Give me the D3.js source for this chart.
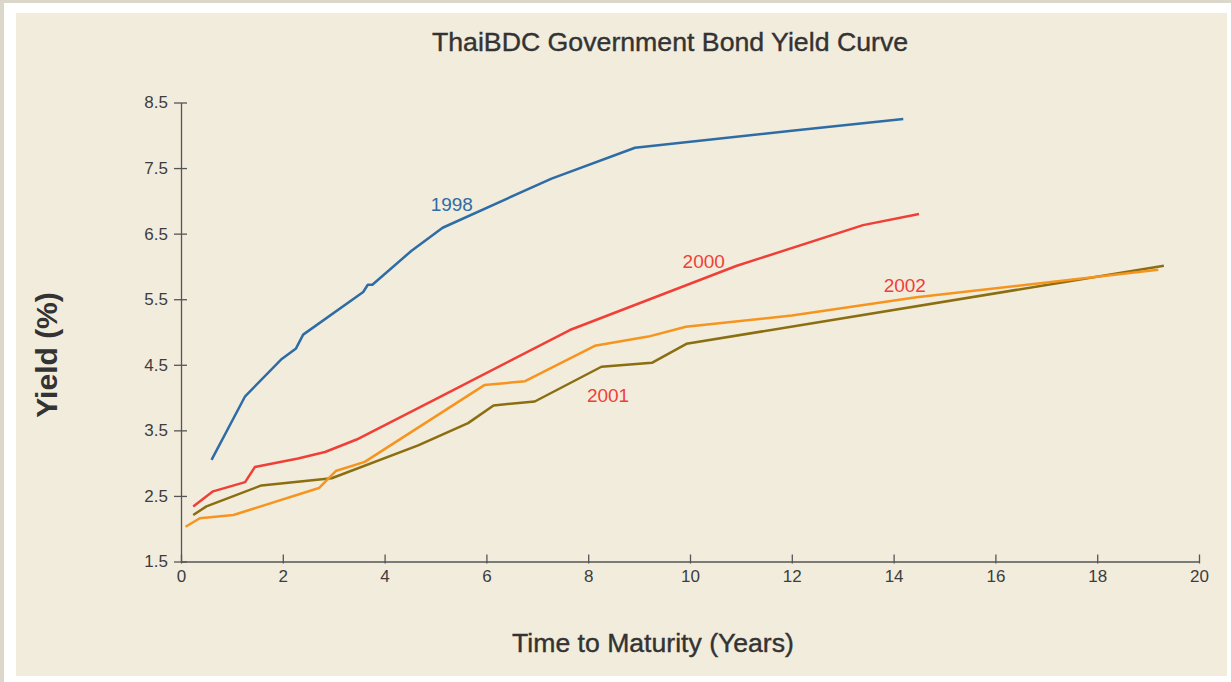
<!DOCTYPE html>
<meta charset="utf-8">
<style>
body { margin: 0; background: #fff; }
text { font-family: "Liberation Sans", Arial, Helvetica, sans-serif; }
.axis path, .axis line { stroke: #555; stroke-width: 1.3px; }
.axis text { fill: #3d3d3d; font-size: 17px; }
.curve { fill: none; stroke-width: 2.5px; stroke-linejoin: round; }
</style>
<svg width="1231" height="682"></svg>
<script src="https://cdn.jsdelivr.net/npm/d3@7"></script>
<script>

var svg = d3.select("svg");

// maturity (years), yield (%)
var years = ["1998", "2000", "2001", "2002"];
var curve1998 = [[0.60,3.05],[1.26,4.02],[1.98,4.59],[2.26,4.75],[2.40,4.96],[3.58,5.61],[3.67,5.72],[3.76,5.72],[4.53,6.24],[5.14,6.59],[7.28,7.34],[8.92,7.81],[12.0,8.07],[14.19,8.25]];
var curve2000 = [[0.24,2.34],[0.63,2.57],[1.26,2.71],[1.45,2.94],[2.30,3.07],[2.83,3.17],[3.45,3.36],[5.09,4.01],[7.64,5.03],[10.92,6.01],[13.40,6.63],[14.50,6.80]];
var curve2001 = [[0.24,2.21],[0.50,2.34],[1.58,2.66],[2.96,2.77],[4.66,3.27],[5.64,3.61],[6.14,3.88],[6.95,3.94],[8.26,4.47],[9.25,4.53],[9.93,4.82],[19.31,6.01]];
var curve2002 = [[0.09,2.03],[0.37,2.16],[1.03,2.21],[2.71,2.62],[3.04,2.88],[3.61,3.02],[5.96,4.19],[6.76,4.25],[8.13,4.79],[9.18,4.93],[9.92,5.08],[12.0,5.25],[14.45,5.53],[19.20,5.95]];
var xTicks = [0, 2, 4, 6, 8, 10, 12, 14, 16, 18, 20];
var yTicks = [1.5, 2.5, 3.5, 4.5, 5.5, 6.5, 7.5, 8.5];
// label anchor points (years, yield)
var labelPos = [[5.32, 6.85], [10.27, 5.98], [8.39, 3.94], [14.22, 5.61]];

var colors = {"1998": "#2e6ca6", "2000": "#ef3f37", "2001": "#8a6e10", "2002": "#f7941e"};
var labelColors = {"1998": "#2e6ca6", "2000": "#ef3f37", "2001": "#ef3f37", "2002": "#ef3f37"};
var curves = {"1998": curve1998, "2000": curve2000, "2001": curve2001, "2002": curve2002};

// page frame
svg.append("rect").attr("width", 1231).attr("height", 682).attr("fill", "#fff");
svg.append("rect").attr("x", 0).attr("y", 0).attr("width", 1231).attr("height", 3).attr("fill", "#dcd7cb");
svg.append("rect").attr("x", 0).attr("y", 0).attr("width", 4).attr("height", 682).attr("fill", "#dcd7cb");
svg.append("rect").attr("x", 16).attr("y", 13).attr("width", 1211).attr("height", 663).attr("fill", "#f2ecdd");

var x = d3.scaleLinear().domain([0, 20]).range([181, 1199]);
var y = d3.scaleLinear().domain([1.5, 8.5]).range([561.5, 102.5]);

var xAxis = svg.append("g")
    .attr("class", "axis")
    .attr("transform", "translate(0,561.5)")
    .call(d3.axisBottom(x).tickValues(xTicks).tickSize(2).tickSizeOuter(0).tickPadding(6));
xAxis.selectAll(".tick line").attr("y1", -7);

var yAxis = svg.append("g")
    .attr("class", "axis")
    .attr("transform", "translate(181,0)")
    .call(d3.axisLeft(y).tickValues(yTicks).tickFormat(d3.format(".1f")).tickSize(7).tickSizeOuter(0).tickPadding(6));
yAxis.selectAll(".tick line").attr("x1", 6);

var line = d3.line()
    .x(function(d) { return x(d[0]); })
    .y(function(d) { return y(d[1]); });

svg.selectAll(".curve")
  .data(years)
  .enter().append("path")
    .attr("class", "curve")
    .attr("stroke", function(d) { return colors[d]; })
    .attr("d", function(d) { return line(curves[d]); });

svg.selectAll(".lbl")
  .data(years)
  .enter().append("text")
    .attr("class", "lbl")
    .attr("x", function(d, i) { return x(labelPos[i][0]); })
    .attr("y", function(d, i) { return y(labelPos[i][1]); })
    .attr("text-anchor", "middle")
    .attr("font-size", "19px")
    .attr("fill", function(d) { return labelColors[d]; })
    .text(function(d) { return d; });

svg.append("text")
    .attr("x", 670).attr("y", 51)
    .attr("text-anchor", "middle")
    .attr("font-size", "26.7px")
    .attr("fill", "#333")
    .attr("stroke", "#333").attr("stroke-width", 0.4)
    .text("ThaiBDC Government Bond Yield Curve");

svg.append("text")
    .attr("x", 653).attr("y", 652)
    .attr("text-anchor", "middle")
    .attr("font-size", "26.6px")
    .attr("fill", "#333")
    .attr("stroke", "#333").attr("stroke-width", 0.4)
    .text("Time to Maturity (Years)");

svg.append("text")
    .attr("transform", "translate(57,355) rotate(-90)")
    .attr("text-anchor", "middle")
    .attr("font-size", "30px")
    .attr("font-weight", "bold")
    .attr("fill", "#333")
    .text("Yield (%)");

</script>
